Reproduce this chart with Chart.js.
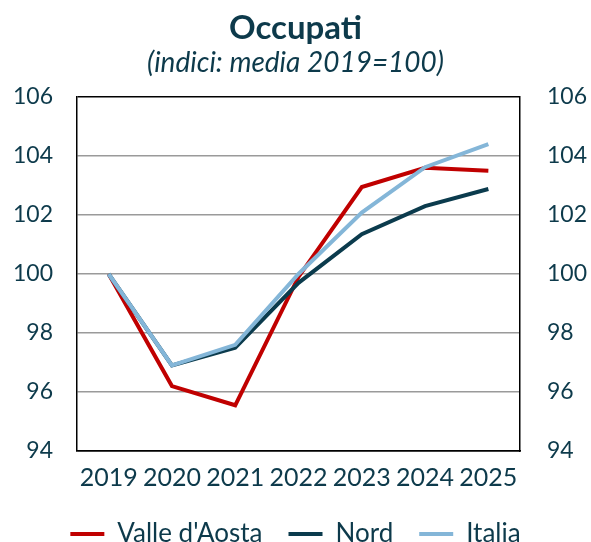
<!DOCTYPE html>
<html>
<head>
<meta charset="utf-8">
<script src="https://cdn.jsdelivr.net/npm/chart.js@4"></script>
<style>
  html, body { margin: 0; padding: 0; background: #fff; }
  #wrap { width: 591px; height: 542px; }
</style>
</head>
<body>
<div id="wrap"><canvas id="c" width="591" height="542"></canvas></div>
<script>
const years = ["2019", "2020", "2021", "2022", "2023", "2024", "2025"];
const valleAosta = [100, 96.2, 95.55, 99.9, 102.95, 103.6, 103.5];
const nord = [100, 96.9, 97.5, 99.7, 101.35, 102.3, 102.88];
const italia = [100, 96.9, 97.6, 100.0, 102.08, 103.62, 104.4];

const TEXT = "#0d3a4b";
const FONT = "Lato";
const COLORS = { valle: "#c00000", nord: "#0b3b4d", italia: "#84b6d8" };

const frameOrGrid = (ctx) => (ctx.tick && (ctx.tick.value === 106 || ctx.tick.value === 94)) ? "#000" : "#9a9a9a";

const chart = new Chart(document.getElementById("c"), {
  type: "line",
  data: {
    labels: years,
    datasets: [
      { label: "Valle d'Aosta", data: valleAosta, borderColor: COLORS.valle, backgroundColor: COLORS.valle, order: 2 },
      { label: "Nord", data: nord, borderColor: COLORS.nord, backgroundColor: COLORS.nord, order: 1 },
      { label: "Italia", data: italia, borderColor: COLORS.italia, backgroundColor: COLORS.italia, order: 0 },
    ].map((d) => ({ ...d, borderWidth: 4, pointRadius: 0, tension: 0, fill: false })),
  },
  options: {
    responsive: false,
    animation: false,
    layout: { padding: 0 },
    plugins: {
      title: {
        display: true,
        text: "Occupati",
        color: TEXT,
        font: { family: FONT, size: 33, weight: "bold", lineHeight: 1.0 },
        padding: { top: 12, bottom: 0 },
      },
      subtitle: {
        display: true,
        text: "(indici: media 2019=100)",
        color: TEXT,
        font: { family: FONT, size: 28, style: "italic", lineHeight: 1.0 },
        padding: { top: 4, bottom: 20 },
      },
      legend: {
        position: "bottom",
        labels: {
          color: TEXT,
          font: { family: FONT, size: 26 },
          boxWidth: 34,
          boxHeight: 4,
          padding: 26,
          sort: (a, b) => a.datasetIndex - b.datasetIndex,
          generateLabels: (chart) =>
            Chart.defaults.plugins.legend.labels.generateLabels(chart).map((l) => ({ ...l, lineWidth: 0 })),
        },
      },
      tooltip: { enabled: false },
    },
    scales: {
      x: {
        offset: true,
        afterFit: (s) => { s.height = 44; },
        grid: { display: false, drawTicks: false },
        border: { display: true, color: "#000", width: 1.5 },
        ticks: { color: TEXT, font: { family: FONT, size: 25 }, padding: 12, maxRotation: 0 },
      },
      y: {
        position: "left",
        min: 94,
        max: 106,
        afterFit: (s) => { s.width = 77; },
        grid: { color: frameOrGrid, lineWidth: 1.5, drawTicks: false },
        border: { display: true, color: "#000", width: 1.5 },
        ticks: { stepSize: 2, color: TEXT, font: { family: FONT, size: 23 }, padding: 24 },
      },
      y2: {
        position: "right",
        min: 94,
        max: 106,
        afterFit: (s) => { s.width = 71; },
        grid: { display: false, drawTicks: false },
        border: { display: true, color: "#000", width: 1.5 },
        ticks: { stepSize: 2, color: TEXT, font: { family: FONT, size: 23 }, padding: 27 },
      },
    },
  },
});

// keep the legend strip compact so the plot reaches down like the original
const legendFit = chart.legend.fit;
chart.legend.fit = function () {
  legendFit.call(this);
  this.height = 47;
};
chart.update();
</script>
</body>
</html>
